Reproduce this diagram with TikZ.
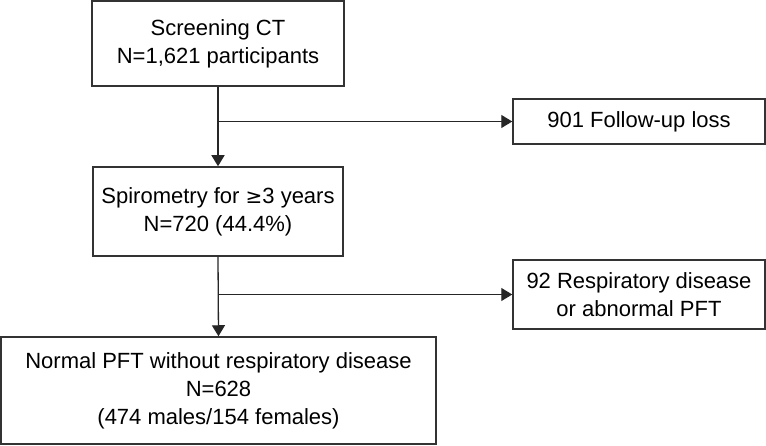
\documentclass[tikz,border=0pt]{standalone}
\usepackage{fontspec}
\setmainfont{Liberation Sans}
\usetikzlibrary{arrows.meta}
\begin{document}
\begin{tikzpicture}[x=1pt,y=1pt,
  box/.style={draw=black!80, line width=1.5pt, fill=white, align=center, inner sep=0pt,
    font=\fontsize{22}{28}\selectfont},
  conn/.style={draw=black!85, line width=1.3pt},
  arr/.style={conn, -{Triangle[length=11pt,width=13pt]}}]
\useasboundingbox (0,0) rectangle (766,-446);
\node[box, minimum width=252pt, minimum height=85pt] (b1) at (218,-43.5) {Screening CT\\N=1,621 participants};
\node[box, minimum width=250pt, minimum height=89pt] (b2) at (218,-211.5) {Spirometry for \fontspec{DejaVu Sans}\fontsize{20}{28}\selectfont≥\fontspec{Liberation Sans}\fontsize{22}{28}\selectfont3 years\\N=720 (44.4\%)};
\node[box, minimum width=435pt, minimum height=107pt] (b3) at (218.5,-390.5) {Normal PFT without respiratory disease\\N=628\\(474 males/154 females)};
\node[box, minimum width=252pt, minimum height=45pt] (bf) at (639,-121.5) {901 Follow-up loss};
\node[box, minimum width=252pt, minimum height=69pt] (br) at (639,-294.5) {92 Respiratory disease\\or abnormal PFT};
\coordinate (j1) at (b1.south |- bf.west);
\coordinate (j2) at (b2.south |- br.west);
\draw[arr] (b1.south) -- (b2.north);
\draw[arr] (j1) -- (bf.west);
\draw[arr] (b2.south) -- (b3.north);
\draw[arr] (j2) -- (br.west);
\end{tikzpicture}
\end{document}
